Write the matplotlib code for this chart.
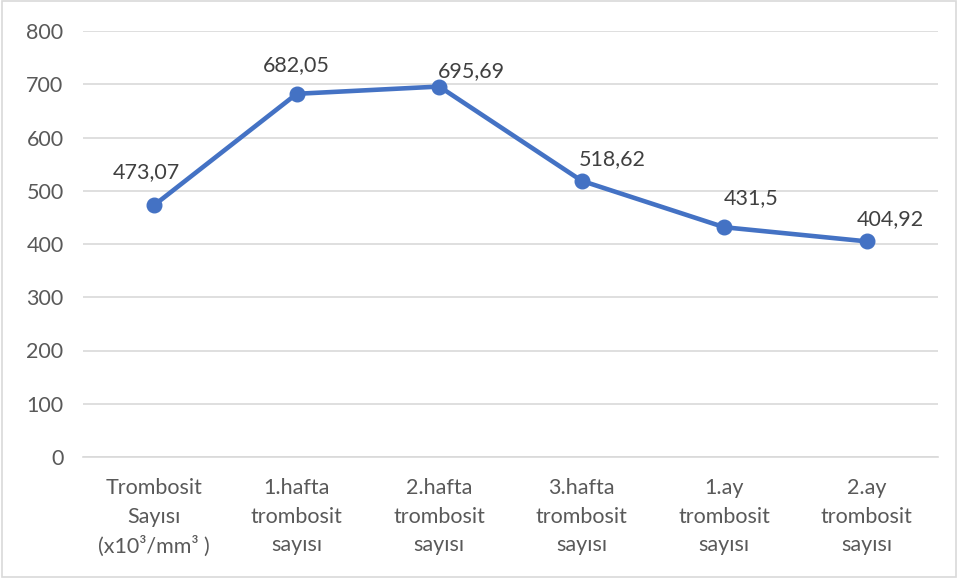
import numpy as np
import matplotlib.pyplot as plt
from matplotlib.patches import Rectangle

plt.rcParams['font.family'] = ['Lato', 'DejaVu Sans']

labels = ["Trombosit\nSayısı\n(x10³/mm³ )", "1.hafta\ntrombosit\nsayısı",
          "2.hafta\ntrombosit\nsayısı", "3.hafta\ntrombosit\nsayısı",
          "1.ay\ntrombosit\nsayısı", "2.ay\ntrombosit\nsayısı"]
values = [473.07, 682.05, 695.69, 518.62, 431.5, 404.92]
value_text = ["473,07", "682,05", "695,69", "518,62", "431,5", "404,92"]
# label offsets in points (dx, dy) from each marker
offsets = [(-6, 24), (0, 21), (23, 11), (22, 16), (19, 21), (17, 16)]

fig = plt.figure(figsize=(9.58, 5.78), dpi=100)
ax = fig.add_axes([83/958, 1-457/578, 855/958, 426/578])
x = np.arange(len(values))
ax.plot(x, values, color="#4472C4", lw=3.3, marker="o", markersize=10.5, zorder=3)
for i in range(len(values)):
    ax.annotate(value_text[i], (x[i], values[i]), xytext=offsets[i], textcoords="offset points",
                ha="center", va="center", fontsize=15.5, color="#404040")
ax.set_xlim(-0.5, len(values)-0.5)
ax.set_ylim(0, 800)
ax.set_yticks(np.arange(0, 801, 100))
ax.set_xticks(x)
ax.set_xticklabels(labels, linespacing=1.55)
ax.tick_params(axis="both", length=0, labelsize=15.5, colors="#595959")
ax.tick_params(axis="y", pad=14)
ax.tick_params(axis="x", pad=15)
ax.grid(axis="y", color="#D9D9D9", lw=1.2)
ax.set_axisbelow(True)
for s in ["top", "right", "left"]:
    ax.spines[s].set_visible(False)
ax.spines["bottom"].set_color("#D9D9D9")
ax.spines["bottom"].set_linewidth(1.2)
fig.patches.append(Rectangle((0.002, 0.002), 0.996, 0.996, transform=fig.transFigure,
                             fill=False, edgecolor="#D9D9D9", lw=1.2))
plt.savefig("out.png")
